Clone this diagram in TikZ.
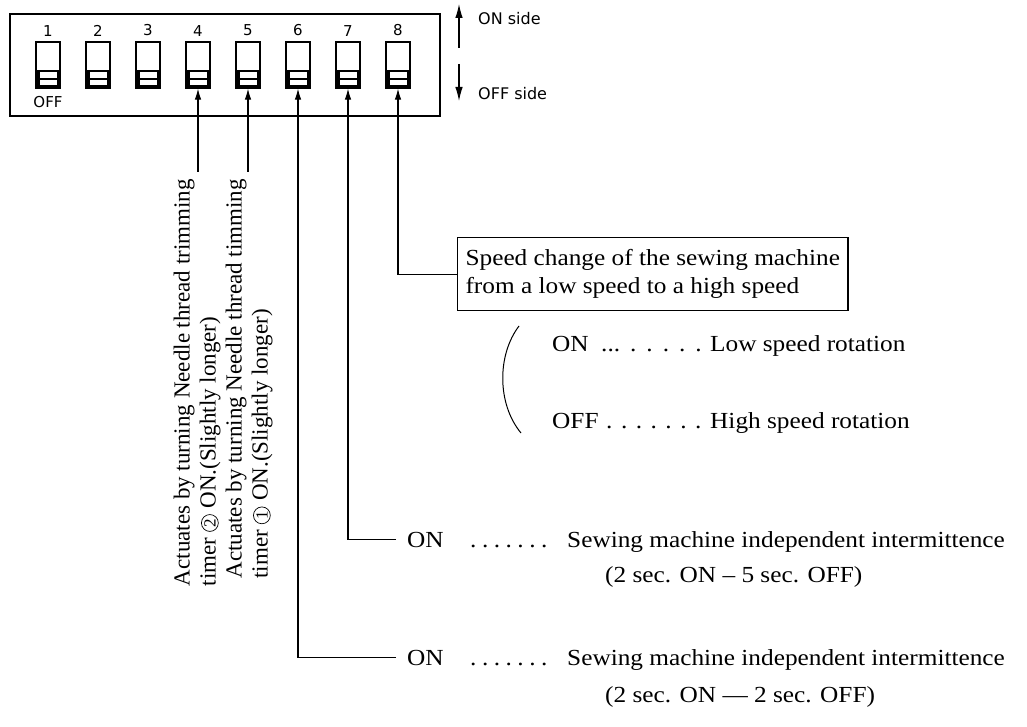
\documentclass[tikz,border=0pt]{standalone}
\usepackage{fontspec}
\setmainfont{Liberation Serif}
\newfontfamily\wideserif[FakeStretch=1.1]{Liberation Serif}
\newfontfamily\panelsans{DejaVu Sans}
\usetikzlibrary{arrows.meta,positioning,calc}
\newcommand{\circnum}[1]{\tikz[baseline=(cn.base)]\node[draw,circle,line width=0.7pt,inner sep=1pt,font=\fontsize{17}{17}\selectfont] (cn) {#1};}

\begin{document}
\begin{tikzpicture}[x=1pt,y=-1pt,
  panel/.style={draw,line width=1.2pt,minimum width=430pt,minimum height=102pt,inner sep=0pt},
  swbody/.style={draw,line width=1.3pt,minimum width=24pt,minimum height=46pt,inner sep=0pt,
    path picture={
      \fill (path picture bounding box.south west) rectangle ([yshift=18pt]path picture bounding box.south east);
      \fill[white] ([shift={(3.5pt,2.5pt)}]path picture bounding box.south west) rectangle ([shift={(-3.5pt,8pt)}]path picture bounding box.south east);
      \fill[white] ([shift={(3.5pt,10pt)}]path picture bounding box.south west) rectangle ([shift={(-3.5pt,15.5pt)}]path picture bounding box.south east);
    }},
  num/.style={font=\panelsans\fontsize{15}{15}\selectfont,inner sep=1pt},
  sidelbl/.style={font=\panelsans\fontsize{16}{16}\selectfont,inner sep=0pt,anchor=west},
  lead/.style={-{Latex[length=11pt,width=6.5pt]},line width=1.1pt},
  sidearrow/.style={-{Latex[length=14pt,width=7.5pt]},line width=1.1pt},
  vtext/.style={rotate=90,anchor=east,align=left,inner sep=0pt,font=\fontsize{23}{26}\selectfont},
  infobox/.style={draw,line width=1.1pt,align=left,inner xsep=8pt,inner ysep=12pt,font=\wideserif\fontsize{23}{28}\selectfont},
  rowtext/.style={inner sep=0pt,anchor=base west,font=\wideserif\fontsize{23}{28}\selectfont}
]
\useasboundingbox (0,0) rectangle (1027,727);

% DIP switch panel
\node[panel] (panel) at (225,65) {};
\node[swbody] (sw1) at (48,65) {};
\node[swbody] (sw2) at (98,65) {};
\node[swbody] (sw3) at (148,65) {};
\node[swbody] (sw4) at (198,65) {};
\node[swbody] (sw5) at (248,65) {};
\node[swbody] (sw6) at (298,65) {};
\node[swbody] (sw7) at (348,65) {};
\node[swbody] (sw8) at (398,65) {};
\node[num,above=4pt of sw1] (n1) {1};
\node[num,above=4pt of sw2] (n2) {2};
\node[num,above=4pt of sw3] (n3) {3};
\node[num,above=4pt of sw4] (n4) {4};
\node[num,above=4pt of sw5] (n5) {5};
\node[num,above=4pt of sw6] (n6) {6};
\node[num,above=4pt of sw7] (n7) {7};
\node[num,above=4pt of sw8] (n8) {8};
\node[num,below=7pt of sw1] (off1) {OFF};

% ON side / OFF side
\coordinate (ontip) at (459,4);
\coordinate (onbase) at (459,48);
\coordinate (offbase) at (459,64);
\coordinate (offtip) at (459,101);
\draw[sidearrow] (onbase) -- (ontip);
\draw[sidearrow] (offbase) -- (offtip);
\node[sidelbl] (onside) at (478,19) {ON side};
\node[sidelbl] (offside) at (478,94) {OFF side};

% switches 4 and 5: timer notes
\coordinate (end4) at (198,172);
\coordinate (end5) at (248,172);
\draw[lead] (end4) -- (sw4.south);
\draw[lead] (end5) -- (sw5.south);
\node[vtext] (note4) at (197,179) {Actuates by turning Needle thread trimming\\timer \circnum{2} ON.(Slightly longer)};
\node[vtext] (note5) at (249,179) {Actuates by turning Needle thread timming\\timer \circnum{1} ON.(Slightly longer)};

% switch 8: speed change
\node[infobox,anchor=north west] (speed) at (457,237) {Speed change of the sewing machine\\from a low speed to a high speed};
\draw[lead] (speed.west) -| (sw8.south);
\draw[line width=1pt] (519,326) .. controls (497,355) and (497,404) .. (521,433);
\node[rowtext] (lowon) at (552,351) {ON};
\node[rowtext] (lowdots) at (601,351) {...\kern10pt.\kern10pt.\kern10pt.\kern10pt.\kern10pt.};
\node[rowtext] (lowdesc) at (710,351) {Low speed rotation};
\node[rowtext] (highoff) at (552,428) {OFF};
\node[rowtext] (highdots) at (606,428) {.\kern8.5pt.\kern8.5pt.\kern8.5pt.\kern8.5pt.\kern8.5pt.\kern8.5pt.};
\node[rowtext] (highdesc) at (710,428) {High speed rotation};

% switch 7: intermittence 2/5
\node[rowtext,inner xsep=11pt] (on7) at (396,547) {ON};
\draw[lead] (on7.west) -| (sw7.south);
\node[rowtext] (dots7) at (470,547) {.\kern5.5pt.\kern5.5pt.\kern5.5pt.\kern5.5pt.\kern5.5pt.\kern5.5pt.};
\node[rowtext] (desc7) at (567,547) {Sewing machine independent intermittence};
\node[rowtext] (sub7) at (605,582) {(2 sec. ON – 5 sec. OFF)};

% switch 6: intermittence 2/2
\node[rowtext,inner xsep=11pt] (on6) at (396,665) {ON};
\draw[lead] (on6.west) -| (sw6.south);
\node[rowtext] (dots6) at (470,665) {.\kern5.5pt.\kern5.5pt.\kern5.5pt.\kern5.5pt.\kern5.5pt.\kern5.5pt.};
\node[rowtext] (desc6) at (567,665) {Sewing machine independent intermittence};
\node[rowtext] (sub6) at (605,702) {(2 sec. ON — 2 sec. OFF)};
\end{tikzpicture}
\end{document}
